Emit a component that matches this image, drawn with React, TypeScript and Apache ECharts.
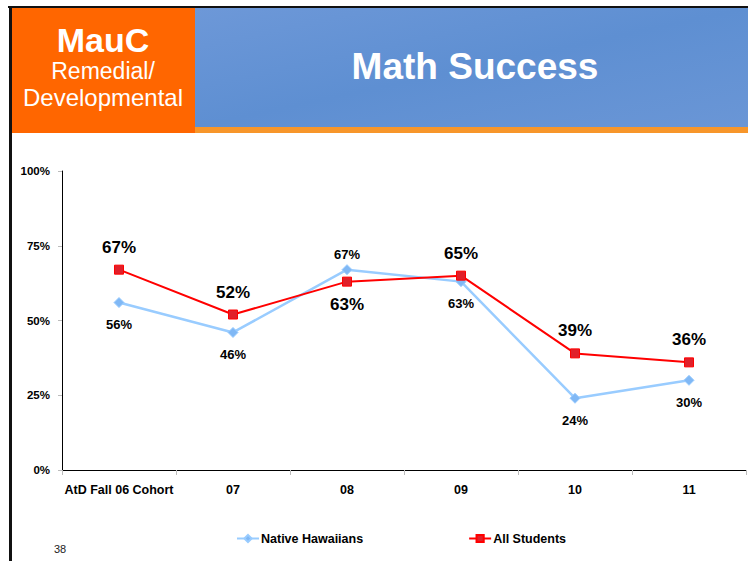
import React, { useEffect, useRef } from "react";
import * as echarts from "echarts";

const categories = ["AtD Fall 06 Cohort", "07", "08", "09", "10", "11"];
const nativeHawaiians = [56, 46, 67, 63, 24, 30];
const allStudents = [67, 52, 63, 65, 39, 36];
const yTicks = [0, 25, 50, 75, 100];

const nhLabelAbove = [false, false, true, false, false, false];
const asLabelAbove = [true, true, false, true, true, true];

const FONT = "'Liberation Sans', Arial, sans-serif";

export default function App() {
  const ref = useRef<HTMLDivElement>(null);
  useEffect(() => {
    if (!ref.current) return;
    const chart = echarts.init(ref.current, null, { renderer: "svg" });
    const nhData = nativeHawaiians.map((v, i) => ({
      value: v,
      label: {
        position: nhLabelAbove[i] ? "top" : "bottom",
        distance: nhLabelAbove[i] ? 3 : 10,
      },
    }));
    const asData = allStudents.map((v, i) => ({
      value: v,
      label: {
        position: asLabelAbove[i] ? "top" : "bottom",
        distance: 9,
      },
    }));
    chart.setOption({
      animation: false,
      backgroundColor: "#ffffff",
      textStyle: { fontFamily: FONT },
      graphic: [
        { type: "rect", shape: { x: 8, y: 6, width: 740, height: 2 }, style: { fill: "#111111" }, z: 10 },
        { type: "rect", shape: { x: 9, y: 6, width: 3, height: 555 }, style: { fill: "#111111" }, z: 10 },
        {
          type: "rect",
          shape: { x: 195, y: 8, width: 553, height: 119 },
          style: {
            fill: new echarts.graphic.LinearGradient(0, 0, 1, 1, [
              { offset: 0, color: "#6D98D8" },
              { offset: 0.5, color: "#5E8FD2" },
              { offset: 1, color: "#6A96D6" },
            ]),
          },
          z: 5,
        },
        { type: "rect", shape: { x: 195, y: 127, width: 553, height: 6 }, style: { fill: "#F7962A" }, z: 5 },
        { type: "rect", shape: { x: 12, y: 8, width: 183, height: 125 }, style: { fill: "#FF6600" }, z: 6 },
        {
          type: "text",
          x: 103,
          y: 40,
          style: { text: "MauC", fill: "#ffffff", font: `bold 34px ${FONT}`, align: "center", verticalAlign: "middle" },
          z: 7,
        },
        {
          type: "text",
          x: 103,
          y: 71,
          style: { text: "Remedial/", fill: "#ffffff", font: `23px ${FONT}`, align: "center", verticalAlign: "middle" },
          z: 7,
        },
        {
          type: "text",
          x: 103,
          y: 97,
          style: { text: "Developmental", fill: "#ffffff", font: `24px ${FONT}`, align: "center", verticalAlign: "middle" },
          z: 7,
        },
        {
          type: "text",
          x: 475,
          y: 66,
          style: { text: "Math Success", fill: "#ffffff", font: `bold 37px ${FONT}`, align: "center", verticalAlign: "middle" },
          z: 7,
        },
        {
          type: "text",
          x: 54,
          y: 549,
          style: { text: "38", fill: "#222222", font: `11px ${FONT}`, align: "left", verticalAlign: "middle" },
          z: 7,
        },
      ],
      grid: { left: 62, right: 2, top: 171, bottom: 91, containLabel: false },
      legend: {
        top: 532,
        left: 236,
        padding: 0,
        itemGap: 105,
        itemWidth: 22,
        itemHeight: 9,
        textStyle: { fontFamily: FONT, fontWeight: "bold", fontSize: 12.5, color: "#000000", padding: [0, 0, 0, -3] },
        data: ["Native Hawaiians", "All Students"],
      },
      xAxis: {
        type: "category",
        data: categories,
        boundaryGap: true,
        axisLine: { lineStyle: { color: "#000000", width: 1 } },
        axisTick: { show: true, length: 5, interval: 0, lineStyle: { color: "#bbbbbb" } },
        axisLabel: {
          color: "#000000",
          fontWeight: "bold",
          fontSize: 12.5,
          fontFamily: FONT,
          margin: 13,
          interval: 0,
        },
      },
      yAxis: {
        type: "value",
        min: 0,
        max: 100,
        interval: 25,
        splitLine: { show: false },
        axisLine: { show: true, lineStyle: { color: "#000000", width: 1 } },
        axisTick: { show: true, length: 4, lineStyle: { color: "#bbbbbb" } },
        axisLabel: {
          color: "#000000",
          fontWeight: "bold",
          fontSize: 11.5,
          fontFamily: FONT,
          margin: 12,
          formatter: (v: number) => (yTicks.includes(v) ? `${v}%` : ""),
        },
      },
      series: [
        {
          name: "Native Hawaiians",
          type: "line",
          data: nhData,
          symbol: "diamond",
          symbolSize: 10,
          lineStyle: { color: "#99CCFF", width: 2.5 },
          itemStyle: { color: "#80B8F5", borderColor: "#99CCFF", borderWidth: 1 },
          label: {
            show: true,
            formatter: "{c}%",
            color: "#000000",
            fontWeight: "bold",
            fontSize: 13,
            fontFamily: FONT,
          },
          z: 2,
        },
        {
          name: "All Students",
          type: "line",
          data: asData,
          symbol: "rect",
          symbolSize: 9,
          lineStyle: { color: "#FF0000", width: 2 },
          itemStyle: { color: "#E0202A", borderColor: "#FF0000", borderWidth: 1 },
          label: {
            show: true,
            formatter: "{c}%",
            color: "#000000",
            fontWeight: "bold",
            fontSize: 17,
            fontFamily: FONT,
          },
          z: 3,
        },
      ],
    });
    return () => chart.dispose();
  }, []);
  return (
    <div
      ref={ref}
      style={{ position: "absolute", left: 0, top: 0, width: 748, height: 561 }}
    />
  );
}
